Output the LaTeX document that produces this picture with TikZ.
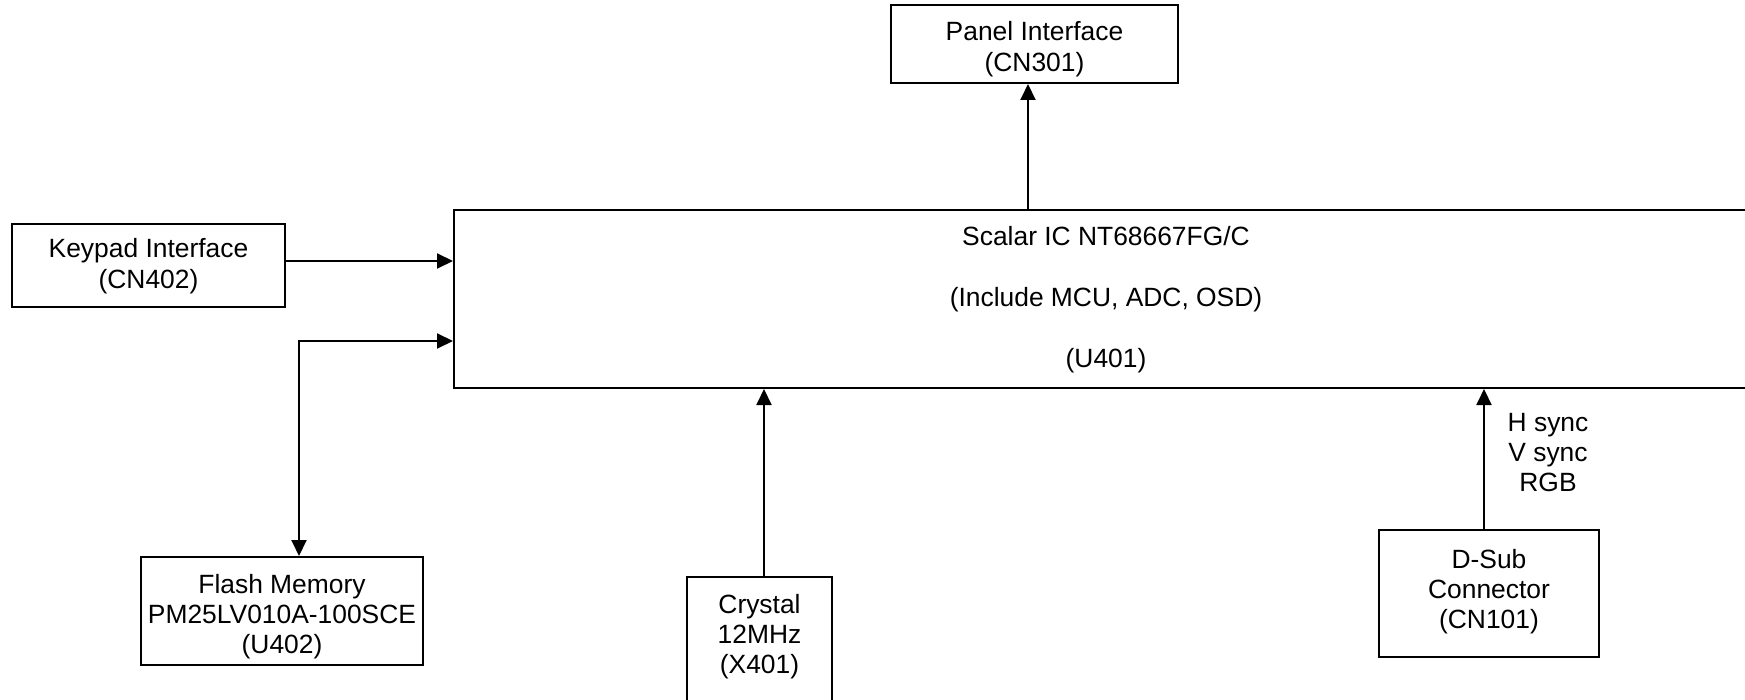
\documentclass[tikz,border=0pt]{standalone}
\usepackage{fontspec}
\setmainfont{Liberation Sans}
\usetikzlibrary{arrows.meta}
\newcommand\bxtext[4]{\parbox[c][#2][t]{#1}{\centering\rule{0pt}{#3}#4}}
\tikzset{
  blk/.style={draw, line width=1pt, inner sep=0pt, anchor=north west},
  arr/.style={line width=1pt, -{Triangle[length=8pt,width=7.5pt]}},
  darr/.style={line width=1pt, {Triangle[length=8pt,width=7.5pt]}-{Triangle[length=8pt,width=7.5pt]}},
}
\begin{document}
\begin{tikzpicture}[x=0.5pt,y=-0.5pt, every node/.style={font=\fontsize{13.2}{15.2}\selectfont}]
\useasboundingbox (0,0) rectangle (1745,700);
\node[blk] (panel) at (890,4) {\bxtext{143.5pt}{39pt}{18pt}{Panel Interface\\(CN301)}};
\node[blk] (keypad) at (11,223) {\bxtext{136.5pt}{41.5pt}{17pt}{Keypad Interface\\(CN402)}};
\node[blk] (scalar) at (453,209) {\bxtext{652pt}{89pt}{18pt}{Scalar IC NT68667FG/C\\[15.2pt](Include MCU, ADC, OSD)\\[15.2pt](U401)}};
\node[blk] (flash) at (140,556) {\bxtext{141pt}{54pt}{18pt}{Flash Memory\\PM25LV010A-100SCE\\(U402)}};
\node[blk] (crystal) at (686,576) {\bxtext{72.5pt}{77pt}{18pt}{Crystal\\12MHz\\(X401)}};
\node[blk] (dsub) at (1378,529) {\bxtext{110pt}{63.5pt}{19pt}{D-Sub\\Connector\\(CN101)}};
\node[inner sep=0pt, align=center] (sync) at (1548,452.5) {H sync\\V sync\\RGB};
\coordinate (pa) at (1028,209);
\draw[arr] (pa) -- (pa |- panel.south);
\coordinate (ka) at (284,261);
\draw[arr] (keypad.east |- ka) -- (ka -| scalar.west);
\coordinate (fb) at (299,341);
\draw[darr] (fb -| scalar.west) -- (fb) -- (fb |- flash.north);
\coordinate (cx) at (764,387);
\draw[arr] (cx |- crystal.north) -- (cx |- scalar.south);
\coordinate (dx) at (1484,387);
\draw[arr] (dx |- dsub.north) -- (dx |- scalar.south);
\end{tikzpicture}
\end{document}
